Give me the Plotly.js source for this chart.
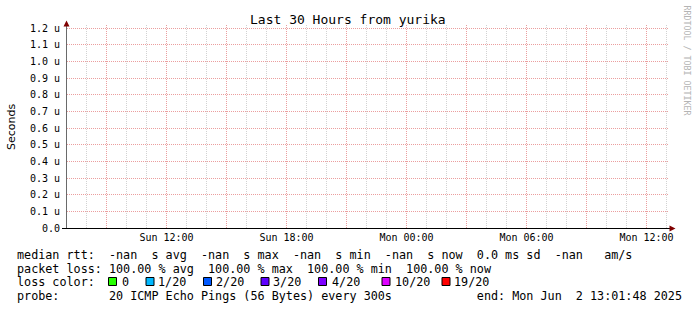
<!DOCTYPE html>
<html>
<head>
<meta charset="utf-8">
<script src="https://cdn.plot.ly/plotly-3.0.1.min.js"></script>
<style>
html,body{margin:0;padding:0;background:#fff;}
#chart{width:697px;height:310px;}
</style>
</head>
<body>
<div id="chart"></div>
<script>
// ---- data ----
const titleText = 'Last 30 Hours from yurika';
const yAxisLabel = 'Seconds';
const watermark = 'RRDTOOL / TOBI OETIKER';
const xRange = ['2025-06-01 07:01:30', '2025-06-02 13:07:30'];
const yRange = [0, 1.218e-6];
const sampleTimes = ['2025-06-01 07:05:00', '2025-06-01 13:00:00', '2025-06-01 19:00:00', '2025-06-02 01:00:00', '2025-06-02 07:00:00', '2025-06-02 13:00:00'];
const medianRtt = [null, null, null, null, null, null];
const yTickVals = [0, 0.1e-6, 0.2e-6, 0.3e-6, 0.4e-6, 0.5e-6, 0.6e-6, 0.7e-6, 0.8e-6, 0.9e-6, 1.0e-6, 1.1e-6, 1.2e-6];
const yTickText = ['0.0', '0.1 u', '0.2 u', '0.3 u', '0.4 u', '0.5 u', '0.6 u', '0.7 u', '0.8 u', '0.9 u', '1.0 u', '1.1 u', '1.2 u'];
const xTickVals = ['2025-06-01 09:00', '2025-06-01 12:00', '2025-06-01 15:00', '2025-06-01 18:00', '2025-06-01 21:00', '2025-06-02 00:00', '2025-06-02 03:00', '2025-06-02 06:00', '2025-06-02 09:00', '2025-06-02 12:00'];
const xTickText = ['', 'Sun 12:00', '', 'Sun 18:00', '', 'Mon 00:00', '', 'Mon 06:00', '', 'Mon 12:00'];
const statNames = ['avg', 'max', 'min', 'now'];
const rttStatValues = ['-nan', '-nan', '-nan', '-nan'];
const rttSd = '0.0';
const rttAmS = '-nan';
const lossStatValues = ['100.00', '100.00', '100.00', '100.00'];
const lossLabels = ['0', '1/20', '2/20', '3/20', '4/20', '10/20', '19/20'];
const lossColors = ['#26ff00', '#00b8ff', '#0059ff', '#5e00ff', '#7e00ff', '#dd00ff', '#ff0000'];
const probeText = '20 ICMP Echo Pings (56 Bytes) every 300s';
const endText = 'end: Mon Jun  2 13:01:48 2025';

// ---- layout helpers ----
const W = 697, H = 310;
const PL = 67, PR = 669, PT = 25, PB = 228;
const xp = px => (px - PL) / (PR - PL);
const yp = py => (PB - py) / (PB - PT);
const nb = s => s.replace(/ /g, '\u00a0');
const MONO = 'DejaVu Sans Mono';
const legendSize = 11.75;

const rttLine = 'median rtt:  ' + rttStatValues.map((v, i) => v + '  s ' + statNames[i]).join('  ') + '  ' + rttSd + ' ms sd  ' + rttAmS + '   am/s';
const lossLine = 'packet loss: ' + lossStatValues.map((v, i) => v + ' % ' + statNames[i]).join('  ');
const probeLine = 'probe:       ' + probeText + '            ' + endText;

const rowY = [255, 268.5, 282, 295.5];
const annotations = [];
function txt(text, x, y, opts) {
  annotations.push(Object.assign({
    text: nb(text), xref: 'paper', yref: 'paper', x: xp(x), y: yp(y),
    xanchor: 'left', yanchor: 'middle', showarrow: false,
    font: {family: MONO, size: legendSize, color: '#000'}
  }, opts || {}));
}
txt(rttLine, 15, rowY[0]);
txt(lossLine, 15, rowY[1]);
txt('loss color:', 15, rowY[2]);
txt(probeLine, 15, rowY[3]);

const boxLeft = [108, 145.5, 203, 260.5, 318, 381.5, 441.5];
const labelLeft = [119.5, 156, 213.5, 271, 329.5, 392.5, 452.5];
const shapes = [];
lossLabels.forEach((lab, i) => {
  shapes.push({type: 'rect', xref: 'paper', yref: 'paper',
    x0: xp(boxLeft[i] + 0.5), x1: xp(boxLeft[i] + 8.5), y0: yp(277.5), y1: yp(285.5),
    fillcolor: lossColors[i], line: {color: '#000', width: 1}});
  txt(lab, labelLeft[i], rowY[2]);
});

shapes.push({type: 'line', xref: 'paper', yref: 'paper', x0: xp(62), x1: xp(670), y0: yp(228.5), y1: yp(228.5), line: {color: '#000', width: 1}});
shapes.push({type: 'path', xref: 'paper', yref: 'paper',
  path: `M ${xp(63.5)} ${yp(26.5)} L ${xp(69.5)} ${yp(26.5)} L ${xp(66.5)} ${yp(20.5)} Z`,
  fillcolor: '#800000', line: {width: 0}});
shapes.push({type: 'path', xref: 'paper', yref: 'paper',
  path: `M ${xp(669.5)} ${yp(225.5)} L ${xp(669.5)} ${yp(231.5)} L ${xp(675.5)} ${yp(228.5)} Z`,
  fillcolor: '#800000', line: {width: 0}});

annotations.push({text: yAxisLabel, xref: 'paper', yref: 'paper', x: xp(11), y: yp(127),
  xanchor: 'center', yanchor: 'middle', textangle: -90, showarrow: false,
  font: {family: 'DejaVu Sans', size: 11, color: '#000'}});
annotations.push({text: nb(watermark), xref: 'paper', yref: 'paper', x: xp(686.5), y: yp(60),
  xanchor: 'center', yanchor: 'middle', textangle: 90, showarrow: false,
  font: {family: MONO, size: 8.3, color: '#b4b4b4'}});
annotations.push({text: titleText, xref: 'paper', yref: 'paper', x: xp(347.5), y: yp(19.5),
  xanchor: 'center', yanchor: 'middle', showarrow: false,
  font: {family: MONO, size: 13, color: '#000'}});

const majorGrid = '#eb9e9e';
const minorGrid = '#d2d2d2';
const gridDash = '1px,1px';

const layout = {
  width: W, height: H,
  margin: {l: PL, r: W - PR, t: PT, b: H - PB, pad: 0},
  paper_bgcolor: '#fff', plot_bgcolor: '#fff',
  showlegend: false,
  font: {family: MONO, size: 10, color: '#000'},
  xaxis: {
    type: 'date', range: xRange, fixedrange: true,
    tickmode: 'array', tickvals: xTickVals, ticktext: xTickText,
    ticks: '', showline: false, zeroline: false,
    showgrid: true, gridcolor: majorGrid, griddash: gridDash, gridwidth: 1,
    tickfont: {family: MONO, size: 10, color: '#000'},
    ticklabelstandoff: 2,
    minor: {tickmode: 'linear', tick0: '2025-06-01 00:00:00', dtick: 3600000, showgrid: true, gridcolor: minorGrid, griddash: gridDash, gridwidth: 1, ticks: ''}
  },
  yaxis: {
    range: yRange, fixedrange: true,
    tickmode: 'array', tickvals: yTickVals, ticktext: yTickText,
    ticks: '', showline: true, linecolor: '#6a6a6a', linewidth: 1, zeroline: false,
    showgrid: true, gridcolor: majorGrid, griddash: gridDash, gridwidth: 1,
    tickfont: {family: MONO, size: 10, color: '#000'},
    ticklabelstandoff: 4
  },
  shapes: shapes,
  annotations: annotations
};

const data = [{
  type: 'scatter', mode: 'lines', x: sampleTimes, y: medianRtt,
  line: {color: '#26ff00', width: 1}, hoverinfo: 'skip'
}];

Plotly.newPlot('chart', data, layout, {staticPlot: true, displayModeBar: false});
</script>
</body>
</html>
